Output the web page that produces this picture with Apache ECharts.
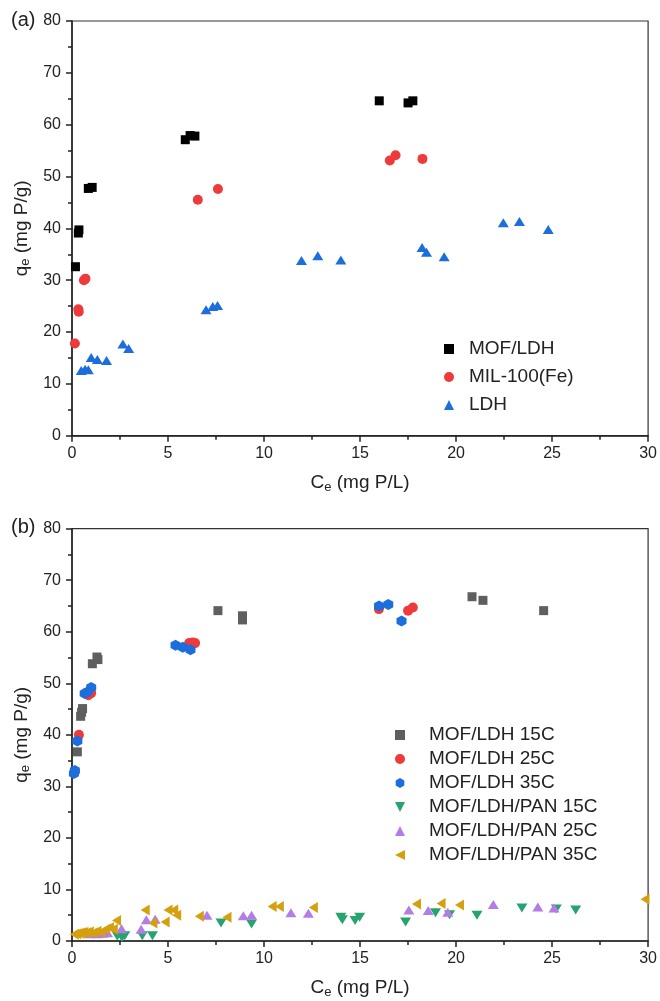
<!DOCTYPE html>
<html>
<head>
<meta charset="utf-8">
<title>Phosphate adsorption isotherms</title>
<script src="https://cdn.jsdelivr.net/npm/echarts@6/dist/echarts.min.js"></script>
<style>
  html, body { margin: 0; padding: 0; background: #ffffff; }
  #chart { width: 660px; height: 1001px; }
</style>
</head>
<body>
<div id="chart"></div>
<script>
// ---- Panel (a): adsorbent comparison, [Ce (mg P/L), qe (mg P/g)] ----
const mofLdhA = [[0.18,32.6],[0.33,39.1],[0.36,39.7],[0.85,47.7],[1.05,47.9],[5.9,57.1],[6.15,57.9],[6.4,57.8],[16.0,64.6],[17.5,64.2],[17.75,64.6]];
const mil100Fe = [[0.15,17.8],[0.33,24.4],[0.35,23.9],[0.62,30.0],[0.7,30.3],[6.55,45.5],[7.6,47.6],[16.55,53.1],[16.85,54.1],[18.25,53.4]];
const ldhA = [[0.48,12.6],[0.68,12.8],[0.85,12.7],[1.0,15.1],[1.32,14.7],[1.8,14.5],[2.65,17.7],[2.95,16.8],[6.98,24.3],[7.33,24.9],[7.58,25.1],[11.95,33.8],[12.8,34.7],[14.0,33.9],[18.23,36.3],[18.46,35.4],[19.38,34.5],[22.46,41.1],[23.3,41.3],[24.8,39.8]];

// ---- Panel (b): temperature series ----
const mofLdh15 = [[0.28,36.7],[0.45,43.6],[0.5,44.4],[0.55,45.1],[1.06,53.8],[1.3,55.1],[1.35,54.6],[7.6,64.1],[8.88,63.1],[8.88,62.3],[20.83,66.8],[21.4,66.1],[24.56,64.1]];
const mofLdh25 = [[0.15,32.9],[0.36,40.0],[0.85,47.7],[1.0,48.1],[6.1,57.8],[6.29,57.9],[6.41,57.8],[15.98,64.4],[17.5,64.1],[17.75,64.7]];
const mofLdh35 = [[0.1,32.5],[0.15,33.1],[0.28,38.8],[0.66,48.0],[0.8,48.3],[1.0,49.2],[5.39,57.4],[5.77,57.0],[6.17,56.5],[15.99,65.0],[16.47,65.3],[17.16,62.1]];
const pan15 = [[2.36,0.9],[2.6,0.7],[2.75,1.0],[3.66,1.0],[4.19,1.0],[7.76,3.5],[9.35,3.3],[14.0,4.6],[14.08,4.1],[14.74,4.0],[14.98,4.6],[17.37,3.7],[18.93,5.5],[19.66,5.1],[21.09,5.0],[23.43,6.4],[25.22,6.2],[26.23,6.0]];
const pan25 = [[0.9,1.4],[1.35,1.4],[1.6,1.5],[1.85,1.6],[2.58,2.4],[3.6,2.3],[3.87,4.1],[4.33,4.2],[7.03,5.0],[8.92,4.9],[9.35,5.0],[11.4,5.5],[12.31,5.4],[17.54,6.0],[18.55,5.9],[19.57,5.6],[21.94,7.1],[24.26,6.6],[25.1,6.4]];
const pan35 = [[0.12,1.3],[0.25,1.4],[0.38,1.5],[0.5,1.6],[0.62,1.7],[0.75,1.6],[0.9,1.8],[1.1,1.6],[1.3,1.9],[1.5,1.7],[1.75,2.3],[1.95,2.6],[2.15,2.3],[2.32,4.0],[3.81,6.0],[4.21,3.5],[4.85,3.7],[5.0,6.0],[5.3,6.0],[5.45,5.0],[6.63,4.8],[8.07,4.6],[10.42,6.7],[10.8,6.7],[12.57,6.5],[17.94,7.2],[19.22,7.3],[20.18,7.0],[29.84,8.1]];

// ---- axis ticks ----
const xTicks = { min: 0, max: 30, step: 5 };
const yTicks = { min: 0, max: 80, step: 10 };

const FONT = 'Liberation Sans, Arial, sans-serif';
const INK = '#222';

const hexagon = 'path://M0,-1L0.866,-0.5L0.866,0.5L0,1L-0.866,0.5L-0.866,-0.5Z';
const triDown = 'path://M-1,-1L1,-1L0,1Z';
const triLeft = 'path://M1,-1L1,1L-1,0Z';

const nameRich = {
  m: { fontSize: 19, lineHeight: 22, fontFamily: FONT, color: INK },
  s: { fontSize: 13, lineHeight: 12, verticalAlign: 'bottom', fontFamily: FONT, color: INK }
};

function xAxisFor(grid) {
  return {
    type: 'value', gridIndex: grid,
    min: xTicks.min, max: xTicks.max, interval: xTicks.step,
    name: '{m|C}{s|e}{m| (mg P/L)}', nameLocation: 'middle', nameGap: 36,
    nameTextStyle: { rich: nameRich },
    axisLine: { show: true, onZero: false, lineStyle: { color: INK, width: 1.5 } },
    axisTick: { show: true, length: 6, lineStyle: { color: INK, width: 1.5 } },
    minorTick: { show: true, splitNumber: 2, length: 4, lineStyle: { color: INK, width: 1.5 } },
    splitLine: { show: false },
    axisLabel: { fontSize: 16, color: INK, fontFamily: FONT, margin: 10 }
  };
}
function yAxisFor(grid) {
  return {
    type: 'value', gridIndex: grid,
    min: yTicks.min, max: yTicks.max, interval: yTicks.step,
    name: '{m|q}{s|e}{m| (mg P/g)}', nameLocation: 'middle', nameGap: 37,
    nameTextStyle: { rich: nameRich },
    axisLine: { show: true, onZero: false, lineStyle: { color: INK, width: 1.5 } },
    axisTick: { show: true, length: 6, lineStyle: { color: INK, width: 1.5 } },
    minorTick: { show: true, splitNumber: 2, length: 4, lineStyle: { color: INK, width: 1.5 } },
    splitLine: { show: false },
    axisLabel: { fontSize: 16, color: INK, fontFamily: FONT, margin: 11 }
  };
}
function scatter(name, data, grid, symbol, size, color) {
  return {
    type: 'scatter', name, data,
    xAxisIndex: grid, yAxisIndex: grid,
    symbol, symbolSize: size,
    itemStyle: { color, opacity: 1 },
    emphasis: { disabled: true }
  };
}

const legendText = { fontSize: 19, fontFamily: FONT, color: INK, lineHeight: 20 };

const option = {
  animation: false,
  backgroundColor: '#ffffff',
  grid: [
    { left: 72, right: 10, top: 21, height: 414.7, show: true, borderColor: '#333', borderWidth: 1.2, backgroundColor: 'transparent' },
    { left: 72, right: 10, top: 528.7, height: 412.3, show: true, borderColor: '#333', borderWidth: 1.2, backgroundColor: 'transparent' }
  ],
  xAxis: [xAxisFor(0), xAxisFor(1)],
  yAxis: [yAxisFor(0), yAxisFor(1)],
  legend: [
    {
      data: ['MOF/LDH', 'MIL-100(Fe)', 'LDH'],
      orient: 'vertical', left: 444, top: 339, padding: 0,
      itemWidth: 10, itemHeight: 10, itemGap: 8,
      textStyle: Object.assign({ padding: [0, 0, 0, 10] }, legendText),
      selectedMode: false
    },
    {
      data: ['MOF/LDH 15C', 'MOF/LDH 25C', 'MOF/LDH 35C', 'MOF/LDH/PAN 15C', 'MOF/LDH/PAN 25C', 'MOF/LDH/PAN 35C'],
      orient: 'vertical', left: 395, top: 725, padding: 0,
      itemWidth: 10, itemHeight: 10, itemGap: 4,
      textStyle: Object.assign({ padding: [0, 0, 0, 19] }, legendText),
      selectedMode: false
    }
  ],
  graphic: [
    { type: 'text', left: 11, top: 10, style: { text: '(a)', fontSize: 20, fontFamily: FONT, fill: INK } },
    { type: 'text', left: 11, top: 517, style: { text: '(b)', fontSize: 20, fontFamily: FONT, fill: INK } }
  ],
  series: [
    scatter('MOF/LDH', mofLdhA, 0, 'rect', 9, '#000000'),
    scatter('MIL-100(Fe)', mil100Fe, 0, 'circle', 10, '#EE3A3A'),
    scatter('LDH', ldhA, 0, 'triangle', [11, 9], '#1C6EDC'),
    scatter('MOF/LDH 15C', mofLdh15, 1, 'rect', 9, '#5F5F5F'),
    scatter('MOF/LDH 25C', mofLdh25, 1, 'circle', 10, '#EE3A3A'),
    scatter('MOF/LDH 35C', mofLdh35, 1, hexagon, [10, 11], '#1C6EDC'),
    scatter('MOF/LDH/PAN 15C', pan15, 1, triDown, [11, 9], '#27A370'),
    scatter('MOF/LDH/PAN 25C', pan25, 1, 'triangle', [11, 9], '#B47DE6'),
    scatter('MOF/LDH/PAN 35C', pan35, 1, triLeft, [9, 11], '#D4A00F')
  ]
};

const chart = echarts.init(document.getElementById('chart'), null, { renderer: 'canvas' });
chart.setOption(option);
</script>
</body>
</html>
